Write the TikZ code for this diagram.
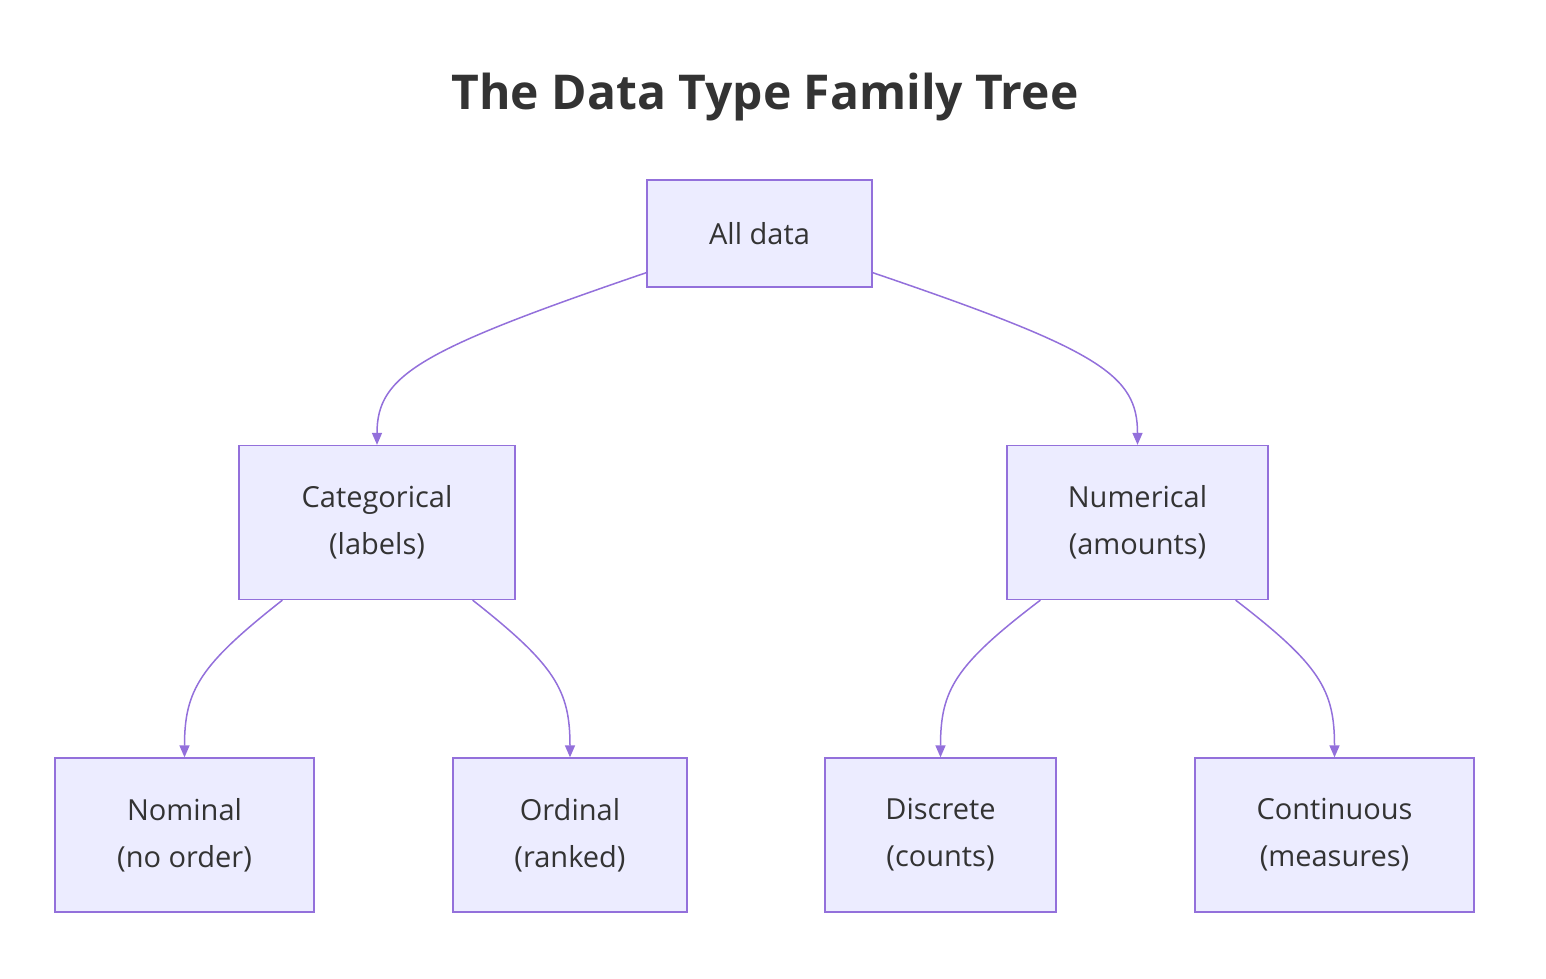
\documentclass[tikz,border=0pt]{standalone}
\usepackage{fontspec}
\setmainfont{Open Sans}
\usetikzlibrary{arrows.meta}
\definecolor{boxfill}{HTML}{ECECFF}
\definecolor{boxline}{HTML}{9370DB}
\definecolor{txt}{HTML}{333333}
\tikzset{
	box/.style   = {draw=boxline, fill=boxfill, line width=1.3pt, rectangle,
		minimum height=154pt, align=center, text=txt,
		font=\fontsize{29}{47}\selectfont},
	link/.style  = {draw=boxline, line width=1.5pt, -{Triangle[length=12pt,width=10pt]}}
}
\begin{document}
\begin{tikzpicture}[x=1pt, y=-1pt]
	\useasboundingbox (0,0) rectangle (1546,978);
	\node[text=txt, font=\fontsize{48}{58}\selectfont\bfseries] (title) at (765,97) {The Data Type Family Tree};
	
	\node[box, minimum width=225pt, minimum height=107pt] (all) at (759.5,233.5) {All data};
	\node[box, minimum width=276pt] (cat) at (377,522.5) {Categorical\\(labels)};
	\node[box, minimum width=261pt] (num) at (1137.5,522.5) {Numerical\\(amounts)};
	\node[box, minimum width=259pt] (nom) at (184.5,835) {Nominal\\(no order)};
	\node[box, minimum width=234pt] (ord) at (570,835) {Ordinal\\(ranked)};
	\node[box, minimum width=231pt] (dis) at (940.5,835) {Discrete\\(counts)};
	\node[box, minimum width=279pt] (con) at (1334.5,835) {Continuous\\(measures)};
	
	% level 1
	\draw[link] ([yshift=15pt]all.south west) .. controls (420,350) and (377,375) .. (cat.north);
	\draw[link] ([yshift=15pt]all.south east) .. controls (1100,350) and (1137.5,375) .. (num.north);
	% level 2
	\draw[link] ([xshift=44pt]cat.south west) .. controls (200,665) and (184.5,690) .. (nom.north);
	\draw[link] ([xshift=-43pt]cat.south east) .. controls (555,665) and (570,690) .. (ord.north);
	\draw[link] ([xshift=34pt]num.south west) .. controls (955,665) and (940.5,690) .. (dis.north);
	\draw[link] ([xshift=-33pt]num.south east) .. controls (1320,665) and (1334.5,690) .. (con.north);
\end{tikzpicture}
\end{document}
